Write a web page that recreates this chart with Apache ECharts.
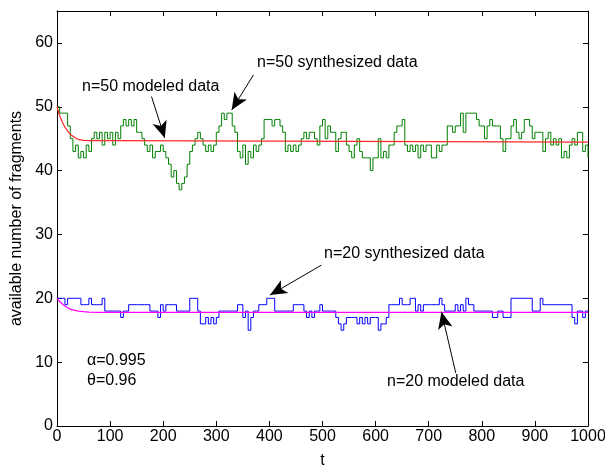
<!DOCTYPE html>
<html>
<head>
<meta charset="utf-8">
<script src="https://cdn.jsdelivr.net/npm/echarts@6/dist/echarts.min.js"></script>
<style>
  html, body { margin: 0; padding: 0; background: #fff; }
  #chart { width: 605px; height: 466px; }
</style>
</head>
<body>
<div id="chart"></div>
<script>
// Sampling step of the simulated runs (time units between stored values)
const T_STEP = 5;

// n = 50: simulated number of available fragments, one value every T_STEP
const synth50 = [
  50,49,49,49,47,45,43,44,42,43,
  42,44,43,45,46,45,46,44,46,45,
  46,44,46,45,47,48,47,48,47,48,
  46,46,45,44,43,44,42,43,43,44,
  43,42,41,39,40,38,37,38,39,41,
  43,44,45,46,45,44,43,44,43,44,
  46,47,49,48,49,49,47,46,43,42,
  44,41,43,42,44,43,44,45,48,48,
  48,47,48,48,47,46,43,44,43,44,
  43,44,45,46,45,46,46,45,44,47,
  48,45,47,46,46,43,45,46,46,44,
  43,42,44,45,43,42,42,42,40,42,
  42,45,42,43,42,44,44,46,47,47,
  48,44,43,44,43,44,42,44,43,44,
  44,42,42,44,43,44,44,47,47,46,
  47,47,49,46,49,49,49,49,48,47,
  47,45,47,48,47,47,47,45,43,45,
  45,47,48,46,45,46,48,48,47,45,
  46,46,46,43,45,46,44,45,44,45,
  42,43,42,44,45,44,46,46,43,44,
  42
];

// n = 20: simulated number of available fragments, one value every T_STEP
const synth20 = [
  20,20,20,19,20,20,20,20,20,19,
  19,19,20,19,19,19,19,20,18,18,
  18,18,18,18,17,18,18,19,19,19,
  19,19,19,19,19,18,18,18,17,19,
  18,19,19,19,19,18,18,18,18,18,
  20,20,20,18,16,16,17,16,17,16,
  17,18,18,18,18,18,18,18,19,19,
  17,18,15,17,18,18,19,19,19,20,
  20,20,18,18,18,18,18,18,18,19,
  19,19,19,18,17,18,17,18,18,19,
  18,18,18,18,18,17,16,15,16,17,
  17,17,17,16,17,16,17,16,17,17,
  17,15,16,16,17,19,19,19,19,20,
  19,19,19,20,20,18,19,18,19,19,
  19,19,19,19,20,19,18,18,18,18,
  19,18,19,18,20,19,19,18,18,18,
  18,18,18,18,17,17,18,18,17,17,
  17,20,20,20,20,20,20,20,20,18,
  18,18,20,19,19,19,19,19,19,19,
  19,19,19,19,17,16,18,18,17,18,
  18
];

// Model predictions (time, expected available fragments)
const model50T = [0, 5, 10, 15, 20, 25, 30, 35, 40, 50, 60, 70, 80, 100, 115, 116, 1000];
const model50V = [50, 48.6, 47.6, 46.8, 46.2, 45.7, 45.4, 45.1, 44.9, 44.75, 44.7, 44.7, 44.7, 44.7, 44.7, 44.45, 44.45];
const model20T = [0, 5, 10, 15, 20, 25, 30, 40, 50, 60, 80, 1000];
const model20V = [20, 19.5, 19.1, 18.8, 18.5, 18.3, 18.2, 18.0, 17.9, 17.85, 17.8, 17.8];

// Axis ticks
const xTicks = { min: 0, max: 1000, step: 100 };
const yTicks = { min: 0, max: 65, step: 10 };

// Annotation arrows: [tail, head] in data coordinates
const arrows = [
  [[178, 51.6], [203, 45.1]],   // n=50 modeled data
  [[370, 55.0], [329, 49.5]],   // n=50 synthesized data
  [[498, 25.2], [401, 20.5]],   // n=20 synthesized data
  [[751, 8.3], [724, 17.9]]     // n=20 modeled data
];

const FONT = '"Liberation Sans", Arial, sans-serif';

function pairs(values) {
  return values.map((v, i) => [i * T_STEP, v]);
}
function zip(ts, vs) {
  return ts.map((t, i) => [t, vs[i]]);
}

const chart = echarts.init(document.getElementById('chart'), null, { renderer: 'canvas' });

const axisLine = { show: true, onZero: false, lineStyle: { color: '#000', width: 1 } };
const tickIn = { show: true, inside: true, length: 5, lineStyle: { color: '#000', width: 1 } };
const plain = v => String(v);

chart.setOption({
  animation: false,
  backgroundColor: '#fff',
  grid: { left: 57, right: 17, top: 11, bottom: 40, containLabel: false, outerBoundsMode: 'none' },
  xAxis: [
    {
      type: 'value', min: xTicks.min, max: xTicks.max, interval: xTicks.step,
      name: 't', nameLocation: 'middle', nameGap: 27,
      nameTextStyle: { fontFamily: FONT, fontSize: 16, color: '#000' },
      axisLine: axisLine, axisTick: tickIn, splitLine: { show: false },
      axisLabel: { fontFamily: FONT, fontSize: 16, color: '#000', margin: 3, formatter: plain }
    },
    {
      type: 'value', position: 'top', min: xTicks.min, max: xTicks.max, interval: xTicks.step,
      axisLine: axisLine, axisTick: tickIn, splitLine: { show: false },
      axisLabel: { show: false }
    }
  ],
  yAxis: [
    {
      type: 'value', min: yTicks.min, max: yTicks.max, interval: yTicks.step,
      name: 'available number of fragments', nameLocation: 'middle', nameGap: 32,
      nameTextStyle: { fontFamily: FONT, fontSize: 16, color: '#000' },
      axisLine: axisLine, axisTick: tickIn, splitLine: { show: false },
      axisLabel: { fontFamily: FONT, fontSize: 16, color: '#000', margin: 4, showMaxLabel: false, formatter: plain }
    },
    {
      type: 'value', position: 'right', min: yTicks.min, max: yTicks.max, interval: yTicks.step,
      axisLine: axisLine, axisTick: tickIn, splitLine: { show: false },
      axisLabel: { show: false }
    }
  ],
  series: [
    {
      name: 'n=50 synthesized data', type: 'line', step: 'end',
      data: pairs(synth50), showSymbol: false, symbol: 'none',
      lineStyle: { color: '#008000', width: 1 }, silent: true
    },
    {
      name: 'n=20 synthesized data', type: 'line', step: 'end',
      data: pairs(synth20), showSymbol: false, symbol: 'none',
      lineStyle: { color: '#0000ff', width: 1 }, silent: true
    },
    {
      name: 'n=50 modeled data', type: 'line', smooth: false,
      data: zip(model50T, model50V), showSymbol: false, symbol: 'none',
      lineStyle: { color: '#ff2828', width: 1.2 }, silent: true
    },
    {
      name: 'n=20 modeled data', type: 'line', smooth: false,
      data: zip(model20T, model20V), showSymbol: false, symbol: 'none',
      lineStyle: { color: '#ff00ff', width: 1.2 }, silent: true,
      markLine: {
        silent: true, animation: false,
        symbol: ['none', 'arrow'], symbolSize: [11, 17],
        label: { show: false },
        lineStyle: { color: '#000', width: 1, type: 'solid' },
        emphasis: { disabled: true },
        data: arrows.map(a => [{ coord: a[0] }, { coord: a[1] }])
      }
    }
  ],
  graphic: [
    { type: 'text', style: { x: 82, y: 87, text: 'n=50 modeled data', font: '16px ' + FONT, fill: '#000', verticalAlign: 'middle' } },
    { type: 'text', style: { x: 257, y: 63, text: 'n=50 synthesized data', font: '16px ' + FONT, fill: '#000', verticalAlign: 'middle' } },
    { type: 'text', style: { x: 324, y: 254, text: 'n=20 synthesized data', font: '16px ' + FONT, fill: '#000', verticalAlign: 'middle' } },
    { type: 'text', style: { x: 387, y: 382, text: 'n=20 modeled data', font: '16px ' + FONT, fill: '#000', verticalAlign: 'middle' } },
    { type: 'text', style: { x: 87, y: 361, text: '\u03b1=0.995', font: '16px ' + FONT, fill: '#000', verticalAlign: 'middle' } },
    { type: 'text', style: { x: 87, y: 381, text: '\u03b8=0.96', font: '16px ' + FONT, fill: '#000', verticalAlign: 'middle' } }
  ]
});
</script>
</body>
</html>
